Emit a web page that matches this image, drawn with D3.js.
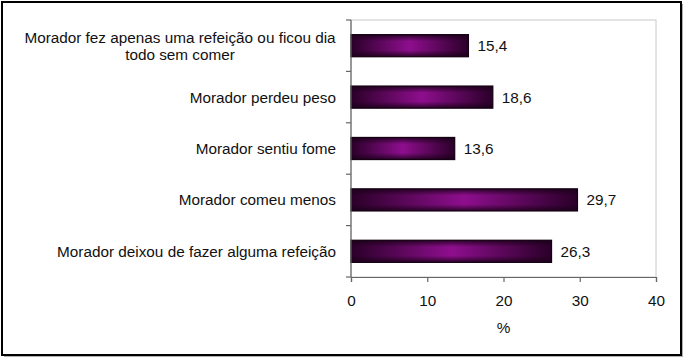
<!DOCTYPE html>
<html><head><meta charset="utf-8">
<script src="https://cdn.jsdelivr.net/npm/d3@7"></script>
<style>
html,body{margin:0;padding:0;background:#fff;}
svg{display:block;font-family:"Liberation Sans",Arial,sans-serif;}
</style></head>
<body>
<script>
const categories = [
  "Morador fez apenas uma refeição ou ficou dia|todo sem comer",
  "Morador perdeu peso",
  "Morador sentiu fome",
  "Morador comeu menos",
  "Morador deixou de fazer alguma refeição"
];
const values = [15.4, 18.6, 13.6, 29.7, 26.3];
const valueLabels = ["15,4", "18,6", "13,6", "29,7", "26,3"];
const xTicks = [0, 10, 20, 30, 40];
const xTitle = "%";

const W = 684, H = 359;
const plot = {left: 351, right: 656, top: 20, bottom: 277};
const FS = 15.3;

const svg = d3.select("body").append("svg").attr("width", W).attr("height", H);

const defs = svg.append("defs");
const gh = defs.append("linearGradient").attr("id","gh").attr("x1","0").attr("x2","1").attr("y1","0").attr("y2","0");
gh.append("stop").attr("offset","0").attr("stop-color","#2a0028");
gh.append("stop").attr("offset","0.5").attr("stop-color","#8e0e8e");
gh.append("stop").attr("offset","1").attr("stop-color","#2a0028");
const gv = defs.append("linearGradient").attr("id","gv").attr("x1","0").attr("x2","0").attr("y1","0").attr("y2","1");
gv.append("stop").attr("offset","0").attr("stop-color","#1a0018").attr("stop-opacity",0.85);
gv.append("stop").attr("offset","0.3").attr("stop-color","#1a0018").attr("stop-opacity",0);
gv.append("stop").attr("offset","0.7").attr("stop-color","#1a0018").attr("stop-opacity",0);
gv.append("stop").attr("offset","1").attr("stop-color","#1a0018").attr("stop-opacity",0.85);

// outer frame with shadow
svg.append("rect").attr("x",4).attr("y",4).attr("width",679).attr("height",353).attr("fill","#b0b0b0");
svg.append("rect").attr("x",2).attr("y",2).attr("width",679).attr("height",353).attr("fill","#fff").attr("stroke","#000").attr("stroke-width",2);

const x = d3.scaleLinear().domain([0,40]).range([plot.left, plot.right]);
const y = d3.scaleBand().domain(categories).range([plot.top, plot.bottom]).paddingInner(0.57).paddingOuter(0.285);

// plot area border (light)
svg.append("rect").attr("x",plot.left).attr("y",plot.top).attr("width",plot.right-plot.left).attr("height",plot.bottom-plot.top)
  .attr("fill","none").attr("stroke","#c8c8c8").attr("stroke-width",1);

// bars
const bars = svg.append("g");
categories.forEach((c,i)=>{
  const bx = x(0), by = y(c), bw = x(values[i]) - x(0), bh = y.bandwidth();
  bars.append("rect").attr("x",bx).attr("y",by).attr("width",bw).attr("height",bh).attr("fill","url(#gh)");
  bars.append("rect").attr("x",bx).attr("y",by).attr("width",bw).attr("height",bh).attr("fill","url(#gv)")
    .attr("stroke","#140012").attr("stroke-width",1.2);
  svg.append("text").attr("x", x(values[i]) + 9).attr("y", by + bh/2).attr("dy","0.36em")
    .attr("font-size",FS).attr("fill","#111").text(valueLabels[i]);
});

// y axis
const yAxisG = svg.append("g").attr("transform",`translate(${plot.left},0)`);
yAxisG.append("line").attr("x1",0).attr("x2",0).attr("y1",plot.top).attr("y2",plot.bottom).attr("stroke","#666").attr("stroke-width",1.2);
d3.range(0, categories.length+1).forEach(k=>{
  const ty = plot.top + k*(plot.bottom-plot.top)/categories.length;
  yAxisG.append("line").attr("x1",-5).attr("x2",0).attr("y1",ty).attr("y2",ty).attr("stroke","#666").attr("stroke-width",1.2);
});
categories.forEach(c=>{
  const lines = c.split("|");
  const cy = y(c) + y.bandwidth()/2;
  if (lines.length === 1) {
    svg.append("text").attr("x",336).attr("y",cy).attr("dy","0.36em").attr("text-anchor","end")
      .attr("font-size",FS).attr("fill","#111").text(lines[0]);
  } else {
    const t = svg.append("text").attr("font-size",FS).attr("fill","#111").attr("text-anchor","middle");
    const lh = 17;
    lines.forEach((l,j)=>{
      t.append("tspan").attr("x",180).attr("y", cy + (j - (lines.length-1)/2)*lh).attr("dy","0.36em").text(l);
    });
  }
});

// x axis
const xAxis = d3.axisBottom(x).tickValues(xTicks).tickSize(5).tickPadding(13).tickFormat(d3.format("d"));
const xg = svg.append("g").attr("transform",`translate(0,${plot.bottom})`).call(xAxis);
xg.select(".domain").attr("stroke","#666").attr("stroke-width",1.2);
xg.selectAll(".tick line").attr("stroke","#666").attr("stroke-width",1.2);
xg.selectAll(".tick text").attr("font-size",FS).attr("fill","#111").attr("font-family","Liberation Sans, Arial, sans-serif");

svg.append("text").attr("x",(x(15)+x(25))/2).attr("y",327).attr("dy","0.36em").attr("text-anchor","middle")
  .attr("font-size",FS).attr("fill","#111").text(xTitle);
</script>
</body></html>
